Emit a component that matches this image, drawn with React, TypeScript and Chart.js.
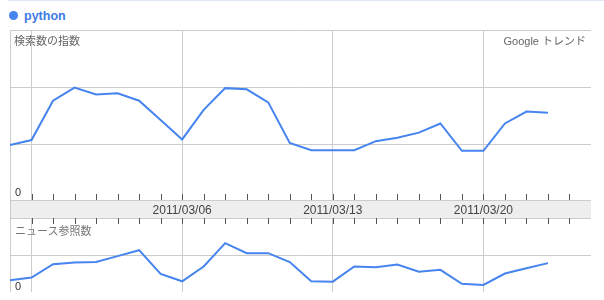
import React, { useEffect, useRef } from "react";
import { Chart, registerables } from "chart.js";

Chart.register(...registerables);

// Days from 2011/02/26 to 2011/03/25 (x axis: 0..27)
const days = [
  "02/26", "02/27", "02/28", "03/01", "03/02", "03/03", "03/04", "03/05",
  "03/06", "03/07", "03/08", "03/09", "03/10", "03/11", "03/12", "03/13",
  "03/14", "03/15", "03/16", "03/17", "03/18", "03/19", "03/20", "03/21",
  "03/22", "03/23", "03/24", "03/25",
];
const sundayIdx = [1, 8, 15, 22];
const dateLabels = ["2011/03/06", "2011/03/13", "2011/03/20"];
const dateLabelIdx = [8, 15, 22];

const searchIndex = [
  0.98, 1.07, 1.76, 1.99, 1.87, 1.89, 1.76, 1.42, 1.08, 1.6, 1.98, 1.96, 1.73, 1.02,
  0.89, 0.89, 0.89, 1.05, 1.11, 1.2, 1.36, 0.88, 0.88, 1.36, 1.57, 1.55, null, null,
];
const newsCount = [
  0.32, 0.39, 0.75, 0.8, 0.81, 0.97, 1.13, 0.49, 0.29, 0.69, 1.32, 1.05, 1.05, 0.81,
  0.29, 0.28, 0.69, 0.67, 0.74, 0.55, 0.6, 0.22, 0.19, 0.5, 0.64, 0.78, null, null,
];

const LINE = "#4684ee";
const GRID = "#cccccc";
const FONT = "Arial, 'Liberation Sans', 'Noto Sans CJK JP', sans-serif";

function toPoints(vals: (number | null)[]) {
  return vals.map((v, i) => ({ x: i, y: v }));
}

function xGridColor(ctx: any) {
  const v = ctx.tick ? ctx.tick.value : -1;
  if (v === 0 || v === days.length - 1 || sundayIdx.includes(v)) return GRID;
  return "rgba(0,0,0,0)";
}

function makeTickPlugin(where: "bottom" | "top") {
  return {
    id: "dayTicks" + where,
    afterDatasetsDraw(chart: any) {
      const { ctx, chartArea, scales } = chart;
      ctx.save();
      ctx.strokeStyle = "#555555";
      ctx.lineWidth = 1;
      for (let i = 1; i < days.length - 1; i++) {
        const x = Math.round(scales.x.getPixelForValue(i)) + 0.5;
        ctx.beginPath();
        if (where === "bottom") {
          ctx.moveTo(x, chartArea.bottom - 7);
          ctx.lineTo(x, chartArea.bottom);
        } else {
          ctx.moveTo(x, chartArea.top);
          ctx.lineTo(x, chartArea.top + 6);
        }
        ctx.stroke();
      }
      ctx.restore();
    },
  };
}

const bandPlugin = {
  id: "dateBand",
  beforeDraw(chart: any) {
    const { ctx, chartArea, scales } = chart;
    ctx.save();
    const l = chartArea.left;
    const r = chartArea.right;
    ctx.fillStyle = "#eeeeee";
    ctx.fillRect(l, 0, r - l, chartArea.top);
    ctx.strokeStyle = GRID;
    ctx.lineWidth = 1;
    ctx.beginPath();
    ctx.moveTo(l, 0.5);
    ctx.lineTo(r, 0.5);
    const xl = Math.round(scales.x.getPixelForValue(0)) + 0.5;
    const xr = Math.round(scales.x.getPixelForValue(days.length - 1)) + 0.5;
    ctx.moveTo(xl, 0);
    ctx.lineTo(xl, chartArea.top);
    ctx.moveTo(xr, 0);
    ctx.lineTo(xr, chartArea.top);
    ctx.stroke();
    ctx.fillStyle = "#444444";
    ctx.font = "12px " + FONT;
    ctx.textAlign = "center";
    ctx.textBaseline = "alphabetic";
    dateLabelIdx.forEach((idx, k) => {
      ctx.fillText(dateLabels[k], scales.x.getPixelForValue(idx), 14);
    });
    ctx.restore();
  },
};

function baseOptions(yMax: number, padTop: number): any {
  return {
    responsive: false,
    animation: false,
    maintainAspectRatio: false,
    devicePixelRatio: 1,
    layout: { padding: { top: padTop, left: 0, right: 0, bottom: 0 } },
    plugins: { legend: { display: false }, tooltip: { enabled: false } },
    elements: { point: { radius: 0 }, line: { tension: 0 } },
    scales: {
      x: {
        type: "linear",
        min: 0,
        max: days.length - 1,
        ticks: { display: false, stepSize: 1 },
        grid: { color: xGridColor, drawTicks: false, lineWidth: 1 },
        border: { display: false },
      },
      y: {
        type: "linear",
        min: 0,
        max: yMax,
        ticks: { display: false, stepSize: 1 },
        grid: { color: GRID, drawTicks: false, lineWidth: 1 },
        border: { display: false },
      },
    },
  };
}

function MainChart() {
  const ref = useRef<HTMLCanvasElement>(null);
  useEffect(() => {
    const chart = new Chart(ref.current!, {
      type: "line",
      data: {
        datasets: [
          {
            data: toPoints(searchIndex) as any,
            borderColor: LINE,
            borderWidth: 2,
            fill: false,
            spanGaps: false,
          },
        ],
      },
      options: baseOptions(3, 0),
      plugins: [makeTickPlugin("bottom")],
    });
    return () => chart.destroy();
  }, []);
  return (
    <canvas
      ref={ref}
      width={581}
      height={171}
      style={{ position: "absolute", left: 10, top: 30, width: 581, height: 171 }}
    />
  );
}

function NewsChart() {
  const ref = useRef<HTMLCanvasElement>(null);
  useEffect(() => {
    const chart = new Chart(ref.current!, {
      type: "line",
      data: {
        datasets: [
          {
            data: toPoints(newsCount) as any,
            borderColor: LINE,
            borderWidth: 2,
            fill: false,
            spanGaps: false,
          },
        ],
      },
      options: baseOptions(2, 18),
      plugins: [bandPlugin, makeTickPlugin("top")],
    });
    return () => chart.destroy();
  }, []);
  return (
    <canvas
      ref={ref}
      width={581}
      height={92}
      style={{ position: "absolute", left: 10, top: 200, width: 581, height: 92 }}
    />
  );
}

const label = (extra: React.CSSProperties): React.CSSProperties => ({
  position: "absolute",
  fontFamily: FONT,
  fontSize: 11,
  lineHeight: "13px",
  color: "#666666",
  whiteSpace: "nowrap",
  ...extra,
});

export default function App() {
  return (
    <div
      style={{
        position: "fixed",
        left: 0,
        top: 0,
        width: 604,
        height: 300,
        background: "#ffffff",
        overflow: "hidden",
      }}
    >
      <div style={{ position: "absolute", left: 8, top: 0, width: 596, height: 1, background: "#dfe7f7" }} />
      <div
        style={{
          position: "absolute",
          left: 9,
          top: 11,
          width: 9,
          height: 9,
          borderRadius: "50%",
          background: LINE,
        }}
      />
      <div
        style={{
          position: "absolute",
          left: 24,
          top: 9,
          fontFamily: FONT,
          fontSize: 12.5,
          fontWeight: "bold",
          color: "#3d7ae6",
          lineHeight: "14px",
        }}
      >
        python
      </div>
      <MainChart />
      <NewsChart />
      <div style={label({ left: 14, top: 35 })}>検索数の指数</div>
      <div style={label({ right: 604 - 586, top: 35 })}>Google トレンド</div>
      <div style={label({ left: 15, top: 186, color: "#333333" })}>0</div>
      <div style={label({ left: 15, top: 225, color: "#777777" })}>ニュース参照数</div>
      <div style={label({ left: 15, top: 280, color: "#333333" })}>0</div>
    </div>
  );
}
